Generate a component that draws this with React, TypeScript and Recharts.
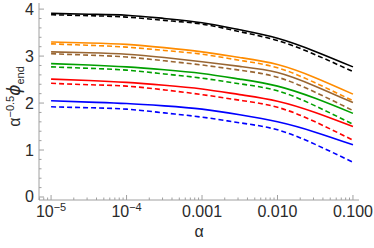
import React from 'react';
import { LineChart, Line, XAxis, YAxis } from 'recharts';

// x is log10(alpha)
const logAlpha = [-5, -4.5, -4, -3.5, -3, -2.5, -2, -1.5, -1];

const blackSolid = [3.91, 3.89, 3.87, 3.8, 3.71, 3.56, 3.38, 3.1, 2.77];
const blackDashed = [3.88, 3.86, 3.83, 3.76, 3.68, 3.52, 3.33, 3.03, 2.67];
const orangeSolid = [3.3, 3.28, 3.25, 3.18, 3.09, 2.97, 2.82, 2.54, 2.19];
const orangeDashed = [3.26, 3.23, 3.19, 3.12, 3.04, 2.91, 2.75, 2.43, 2.05];
const brownSolid = [3.09, 3.07, 3.04, 2.97, 2.88, 2.78, 2.65, 2.36, 2.01];
const brownDashed = [3.05, 3.02, 2.98, 2.9, 2.81, 2.7, 2.55, 2.23, 1.84];
const greenSolid = [2.84, 2.81, 2.77, 2.71, 2.63, 2.51, 2.36, 2.1, 1.78];
const greenDashed = [2.77, 2.74, 2.7, 2.62, 2.53, 2.41, 2.26, 1.94, 1.55];
const redSolid = [2.51, 2.48, 2.44, 2.38, 2.3, 2.18, 2.04, 1.8, 1.5];
const redDashed = [2.42, 2.39, 2.36, 2.28, 2.18, 2.06, 1.91, 1.6, 1.21];
const blueSolid = [2.05, 2.02, 1.99, 1.94, 1.87, 1.75, 1.6, 1.38, 1.11];
const blueDashed = [1.92, 1.9, 1.87, 1.79, 1.7, 1.58, 1.43, 1.12, 0.74];

const xMajor = [-5, -4, -3, -2, -1];
const xTickBase = ['10', '10', '0.001', '0.010', '0.100'];
const xTickExp = ['\u22125', '\u22124', '', '', ''];

const X_DOMAIN: [number, number] = [-5.16, -0.92];
const Y_DOMAIN: [number, number] = [-0.064, 4.13];

const FRAME = '#a0a0a0';
const TEXT = '#2a2a2a';
const FONT = '"Liberation Sans", Arial, sans-serif';

const series = [
  { key: 'bs', data: blackSolid, color: '#000000', dash: undefined },
  { key: 'bd', data: blackDashed, color: '#000000', dash: '5 3' },
  { key: 'os', data: orangeSolid, color: '#ff8c00', dash: undefined },
  { key: 'od', data: orangeDashed, color: '#ff8c00', dash: '5 3' },
  { key: 'ws', data: brownSolid, color: '#996633', dash: undefined },
  { key: 'wd', data: brownDashed, color: '#996633', dash: '5 3' },
  { key: 'gs', data: greenSolid, color: '#00a000', dash: undefined },
  { key: 'gd', data: greenDashed, color: '#00a000', dash: '5 3' },
  { key: 'rs', data: redSolid, color: '#ff0000', dash: undefined },
  { key: 'rd', data: redDashed, color: '#ff0000', dash: '5 3' },
  { key: 'us', data: blueSolid, color: '#0000ff', dash: undefined },
  { key: 'ud', data: blueDashed, color: '#0000ff', dash: '5 3' },
];

const rows = logAlpha.map((a, i) => {
  const r: Record<string, number> = { a };
  series.forEach((s) => (r[s.key] = s.data[i]));
  return r;
});

// log minor ticks (2..9 per decade) plus the decades
const xTicks: number[] = [];
for (let d = -6; d <= -1; d++) {
  for (let k = 1; k <= 9; k++) {
    const v = d + Math.log10(k);
    if (v >= X_DOMAIN[0] && v <= X_DOMAIN[1]) xTicks.push(v);
  }
}
const yTicks: number[] = [];
for (let i = 0; i <= 20; i++) yTicks.push(Math.round(i * 2) / 10);

const isMajor = (v: number) => Math.abs(v - Math.round(v)) < 1e-6;
const MAJOR = 5;
const MINOR = 2.5;

const BottomTick = ({ x, y, payload }: any) => {
  const v = payload.value;
  const major = isMajor(v);
  const i = xMajor.indexOf(Math.round(v));
  return (
    <g>
      <line x1={x} x2={x} y1={y} y2={y - (major ? MAJOR : MINOR)} stroke={FRAME} />
      {major && i >= 0 && (
        <text x={x} y={y + 17} textAnchor="middle" fontSize={16} fill={TEXT} fontFamily={FONT}>
          {xTickBase[i]}
          {xTickExp[i] && (
            <tspan dy={-6} fontSize={11}>
              {xTickExp[i]}
            </tspan>
          )}
        </text>
      )}
    </g>
  );
};

const TopTick = ({ x, y, payload }: any) => (
  <line x1={x} x2={x} y1={y} y2={y + (isMajor(payload.value) ? MAJOR : MINOR)} stroke={FRAME} />
);

const LeftTick = ({ x, y, payload }: any) => {
  const v = payload.value;
  const major = isMajor(v);
  return (
    <g>
      <line x1={x} x2={x + (major ? MAJOR : MINOR)} y1={y} y2={y} stroke={FRAME} />
      {major && (
        <text x={x - 5} y={y + 5.5} textAnchor="end" fontSize={16} fill={TEXT} fontFamily={FONT}>
          {Math.round(v)}
        </text>
      )}
    </g>
  );
};

const RightTick = ({ x, y, payload }: any) => (
  <line x1={x} x2={x - (isMajor(payload.value) ? MAJOR : MINOR)} y1={y} y2={y} stroke={FRAME} />
);

const XTitle = ({ viewBox }: any) => (
  <text
    x={viewBox.x + viewBox.width / 2}
    y={viewBox.y + 37}
    textAnchor="middle"
    fontSize={16}
    fill={TEXT}
    fontFamily={FONT}
  >
    α
  </text>
);

const YTitle = ({ viewBox }: any) => {
  const cx = viewBox.x + 20;
  const cy = viewBox.y + viewBox.height / 2 - 5;
  return (
    <text
      transform={`translate(${cx},${cy}) rotate(-90)`}
      textAnchor="middle"
      fontSize={16}
      fill={TEXT}
      fontFamily={FONT}
    >
      α
      <tspan dy={-6} fontSize={11}>
        −0.5
      </tspan>
      <tspan dy={6} fontStyle="italic" fontSize={17} fontFamily='"DejaVu Sans", sans-serif'>
        ϕ
      </tspan>
      <tspan dy={4} fontSize={11}>
        end
      </tspan>
    </text>
  );
};

export default function App() {
  return (
    <div style={{ position: 'absolute', left: 0, top: 0, width: 374, height: 248, background: '#fff' }}>
      <LineChart width={374} height={248} data={rows} margin={{ top: 3, right: 15, bottom: 0, left: 0 }}>
        <XAxis
          xAxisId="b"
          dataKey="a"
          type="number"
          domain={X_DOMAIN}
          allowDataOverflow
          ticks={xTicks}
          interval={0}
          height={48}
          tickSize={0}
          tickMargin={0}
          tickLine={false}
          axisLine={{ stroke: FRAME }}
          tick={<BottomTick />}
          label={XTitle}
        />
        <XAxis
          xAxisId="t"
          dataKey="a"
          type="number"
          orientation="top"
          domain={X_DOMAIN}
          allowDataOverflow
          ticks={xTicks}
          interval={0}
          height={0}
          tickSize={0}
          tickMargin={0}
          tickLine={false}
          axisLine={{ stroke: FRAME }}
          tick={<TopTick />}
        />
        <YAxis
          yAxisId="l"
          type="number"
          domain={Y_DOMAIN}
          allowDataOverflow
          ticks={yTicks}
          interval={0}
          width={39}
          tickSize={0}
          tickMargin={0}
          tickLine={false}
          axisLine={{ stroke: FRAME }}
          tick={<LeftTick />}
          label={YTitle}
        />
        <YAxis
          yAxisId="r"
          type="number"
          orientation="right"
          domain={Y_DOMAIN}
          allowDataOverflow
          ticks={yTicks}
          interval={0}
          width={0}
          tickSize={0}
          tickMargin={0}
          tickLine={false}
          axisLine={{ stroke: FRAME }}
          tick={<RightTick />}
        />
        <Line
          xAxisId="t"
          yAxisId="r"
          dataKey="bs"
          stroke="none"
          dot={false}
          activeDot={false}
          isAnimationActive={false}
        />
        {series.map((s) => (
          <Line
            key={s.key}
            xAxisId="b"
            yAxisId="l"
            type="natural"
            dataKey={s.key}
            stroke={s.color}
            strokeWidth={1.6}
            strokeDasharray={s.dash}
            dot={false}
            activeDot={false}
            isAnimationActive={false}
          />
        ))}
      </LineChart>
    </div>
  );
}
